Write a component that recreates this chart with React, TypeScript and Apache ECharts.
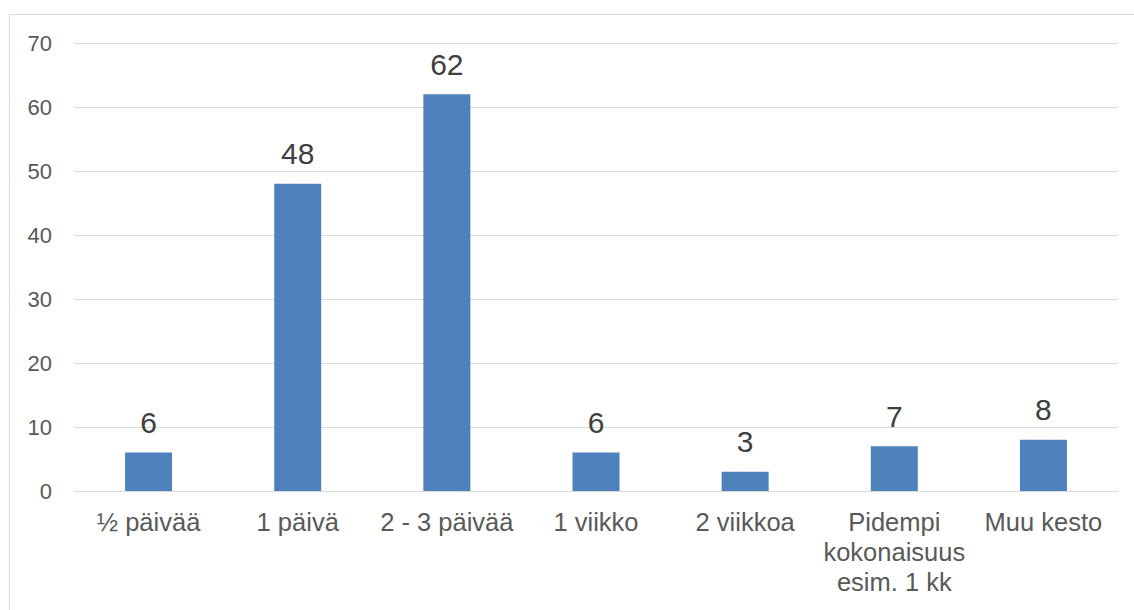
import React, { useEffect, useRef } from "react";
import * as echarts from "echarts";

const categories = [
  "½ päivää",
  "1 päivä",
  "2 - 3 päivää",
  "1 viikko",
  "2 viikkoa",
  "Pidempi\nkokonaisuus\nesim. 1 kk",
  "Muu kesto",
];
const values = [6, 48, 62, 6, 3, 7, 8];
const yTicks = { min: 0, max: 70, interval: 10 };

export default function App() {
  const ref = useRef<HTMLDivElement>(null);
  useEffect(() => {
    if (!ref.current) return;
    const chart = echarts.init(ref.current, null, { renderer: "svg" });
    chart.setOption({
      animation: false,
      backgroundColor: "#ffffff",
      textStyle: { fontFamily: "Liberation Sans, Arial, sans-serif" },
      graphic: [
        {
          type: "rect",
          shape: { x: 9.5, y: 14.5, width: 1200, height: 700 },
          style: { fill: "none", stroke: "#d9d9d9", lineWidth: 1 },
          silent: true,
        },
      ],
      grid: {
        left: 74,
        right: 16,
        top: 43,
        bottom: 119,
        containLabel: false,
        outerBoundsMode: "none",
      },
      xAxis: {
        type: "category",
        data: categories,
        axisLine: { show: true, lineStyle: { color: "#d9d9d9", width: 1 } },
        axisTick: { show: false },
        axisLabel: {
          color: "#595959",
          fontSize: 25.5,
          lineHeight: 30,
          margin: 16,
          interval: 0,
          fontFamily: "Liberation Sans, Arial, sans-serif",
        },
      },
      yAxis: {
        type: "value",
        min: yTicks.min,
        max: yTicks.max,
        interval: yTicks.interval,
        axisLine: { show: false },
        axisTick: { show: false },
        splitLine: { lineStyle: { color: "#d9d9d9", width: 1 } },
        axisLabel: {
          color: "#595959",
          fontSize: 22,
          margin: 22,
          fontFamily: "Liberation Sans, Arial, sans-serif",
        },
      },
      series: [
        {
          type: "bar",
          data: values,
          barWidth: 47,
          itemStyle: { color: "#4f81bd" },
          label: {
            show: true,
            position: "top",
            distance: 15,
            color: "#404040",
            fontSize: 30,
            fontFamily: "Liberation Sans, Arial, sans-serif",
          },
        },
      ],
    });
    return () => chart.dispose();
  }, []);
  return (
    <div
      ref={ref}
      style={{ position: "fixed", left: 0, top: 0, width: 1134, height: 610 }}
    />
  );
}
